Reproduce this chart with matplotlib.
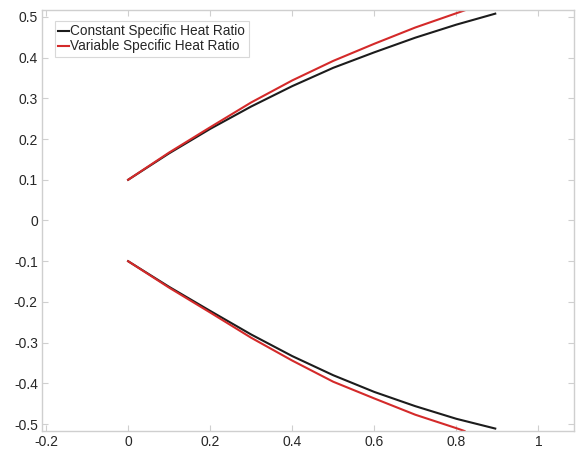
import matplotlib
matplotlib.use("Agg")
import matplotlib.pyplot as plt

plt.rcParams['font.family'] = ['Liberation Sans', 'DejaVu Sans']

# Upper branch
x_const_up = [0.0, 0.1, 0.2, 0.3, 0.4, 0.5, 0.6, 0.7, 0.8, 0.895]
y_const_up = [0.1, 0.165, 0.225, 0.28, 0.33, 0.375, 0.413, 0.449, 0.481, 0.508]
x_var_up = [0.0, 0.1, 0.2, 0.3, 0.4, 0.5, 0.6, 0.7, 0.8, 0.82]
y_var_up = [0.1, 0.167, 0.229, 0.29, 0.344, 0.392, 0.434, 0.474, 0.509, 0.516]

# Lower branch
x_const_lo = [0.0, 0.1, 0.2, 0.3, 0.4, 0.5, 0.6, 0.7, 0.8, 0.895]
y_const_lo = [-0.1, -0.163, -0.222, -0.28, -0.333, -0.38, -0.421, -0.456, -0.487, -0.511]
x_var_lo = [0.0, 0.1, 0.2, 0.3, 0.4, 0.5, 0.6, 0.7, 0.8, 0.82]
y_var_lo = [-0.1, -0.165, -0.226, -0.288, -0.344, -0.396, -0.437, -0.477, -0.51, -0.517]

labels = ["Constant Specific Heat Ratio", "Variable Specific Heat Ratio"]
xticks = [-0.2, 0, 0.2, 0.4, 0.6, 0.8, 1]
xticklabels = ["-0.2", "0", "0.2", "0.4", "0.6", "0.8", "1"]
yticks = [-0.5, -0.4, -0.3, -0.2, -0.1, 0, 0.1, 0.2, 0.3, 0.4, 0.5]
yticklabels = ["-0.5", "-0.4", "-0.3", "-0.2", "-0.1", "0", "0.1", "0.2", "0.3", "0.4", "0.5"]

black = "#1c1c1c"
red = "#d42a2a"

fig = plt.figure(figsize=(5.76, 4.5), dpi=100)
ax = fig.add_axes([42/576, 1-431/450, (574-42)/576, (431-10)/450])

l1, = ax.plot(x_const_up, y_const_up, color=black, lw=1.5)
l2, = ax.plot(x_var_up, y_var_up, color=red, lw=1.5)
ax.plot(x_const_lo, y_const_lo, color=black, lw=1.5)
ax.plot(x_var_lo, y_var_lo, color=red, lw=1.5)

ax.set_xlim(-0.21, 1.087)
ax.set_ylim(-0.517, 0.517)
ax.set_xticks(xticks)
ax.set_xticklabels(xticklabels)
ax.set_yticks(yticks)
ax.set_yticklabels(yticklabels)

spine_c = "#cfcfcf"
for s in ax.spines.values():
    s.set_color(spine_c)
    s.set_linewidth(1.0)
ax.tick_params(direction='in', length=4, width=0.8, color=spine_c,
               labelsize=10, labelcolor="#262626",
               top=True, right=True, pad=3)

leg = ax.legend([l1, l2], labels, loc='upper left',
                bbox_to_anchor=((55-42)/532, 1-(21-10)/421),
                fontsize=9.8, frameon=True, fancybox=False, handlelength=0.75,
                handletextpad=0.12, borderpad=0.25, labelspacing=0.08,
                borderaxespad=0.0)
leg.get_frame().set_edgecolor("#cfcfcf")
leg.get_frame().set_linewidth(0.8)
for t in leg.get_texts():
    t.set_color("#262626")

fig.savefig("out.png", dpi=100)
